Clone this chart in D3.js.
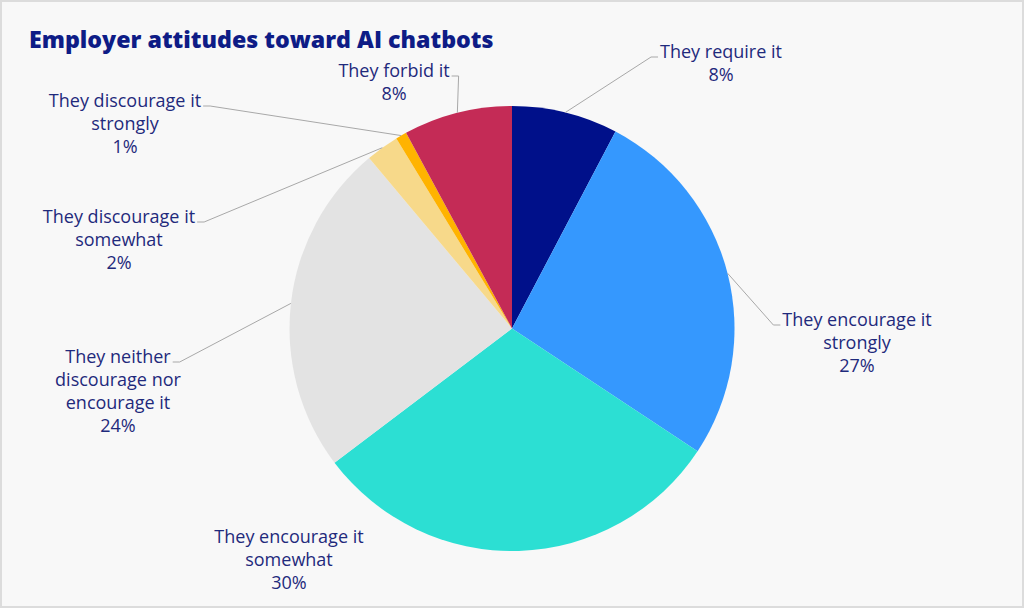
<!DOCTYPE html>
<html>
<head>
<meta charset="utf-8">
<script src="https://cdn.jsdelivr.net/npm/d3@7/dist/d3.min.js"></script>
<style>
  html, body { margin: 0; padding: 0; background: #fff; }
  svg { display: block; }
</style>
</head>
<body>
<svg id="chart" width="1024" height="608"></svg>
<script>
// ---- data ----
const categories = [
  ["They require it"],
  ["They encourage it", "strongly"],
  ["They encourage it", "somewhat"],
  ["They neither", "discourage nor", "encourage it"],
  ["They discourage it", "somewhat"],
  ["They discourage it", "strongly"],
  ["They forbid it"]
];
const values = [7.7, 26.6, 30.4, 24.2, 2.4, 0.8, 7.9];
const colors = ["#00108a", "#3598fe", "#2cdfd3", "#e3e3e3", "#f7d98a", "#ffb300", "#c42b56"];

// ---- layout (label text anchor: center x, first baseline y; side of connector) ----
const labelLayout = [
  { x: 721, y: 58,  side: "left",  connector: true },
  { x: 857, y: 326, side: "left",  connector: true },
  { x: 289, y: 543, side: "right", connector: false },
  { x: 118, y: 363, side: "right", connector: true },
  { x: 119, y: 223, side: "right", connector: true },
  { x: 125, y: 107, side: "right", connector: true },
  { x: 394, y: 77,  side: "right", connector: true }
];

const W = 1024, H = 608;
const cx = 512, cy = 328.5, R = 222.5;
const svg = d3.select("#chart");

svg.append("rect").attr("x", 1).attr("y", 1).attr("width", W - 2).attr("height", H - 2)
  .attr("fill", "#f8f8f8").attr("stroke", "#dcdcdc").attr("stroke-width", 2);

svg.append("text").attr("x", 29).attr("y", 48)
  .attr("fill", "#0e1c86").attr("font-size", 23.2).attr("font-weight", 800)
  .attr("font-family", "'Open Sans', sans-serif")
  .text("Employer attitudes toward AI chatbots");

const data = values.map((v, i) => ({ v, i }));
const pie = d3.pie().value(d => d.v).sort(null);
const arcs = pie(data);
const arc = d3.arc().innerRadius(0).outerRadius(R);

const g = svg.append("g").attr("transform", `translate(${cx},${cy})`);
g.selectAll("path.slice").data(arcs).join("path")
  .attr("class", "slice")
  .attr("d", arc)
  .attr("fill", d => colors[d.data.i]);

const fmt = d3.format(".0f");
const lineH = 23;
const labelG = svg.append("g");
arcs.forEach(a => {
  const i = a.data.i;
  const L = labelLayout[i];
  const lines = categories[i].concat([fmt(values[i]) + "%"]);
  const t = labelG.append("text")
    .attr("text-anchor", "middle")
    .attr("fill", "#1f2a7c")
    .attr("font-family", "'Open Sans', sans-serif")
    .attr("font-size", 18);
  lines.forEach((ln, k) => {
    t.append("tspan").attr("x", L.x).attr("y", L.y + k * lineH).text(ln);
  });
  if (!L.connector) return;
  const first = t.select("tspan").node();
  const w = first.getComputedTextLength();
  const mid = (a.startAngle + a.endAngle) / 2;
  const px = cx + R * Math.sin(mid), py = cy - R * Math.cos(mid);
  const ly = L.y - 1;
  let x0, x1;
  if (L.side === "right") { x0 = L.x + w / 2 + 2; x1 = x0 + 7; }
  else { x0 = L.x - w / 2 - 2; x1 = x0 - 7; }
  labelG.append("path")
    .attr("d", d3.line()([[x0, ly], [x1, ly], [px, py]]))
    .attr("fill", "none").attr("stroke", "#a8a8a8").attr("stroke-width", 1);
});
</script>
</body>
</html>
